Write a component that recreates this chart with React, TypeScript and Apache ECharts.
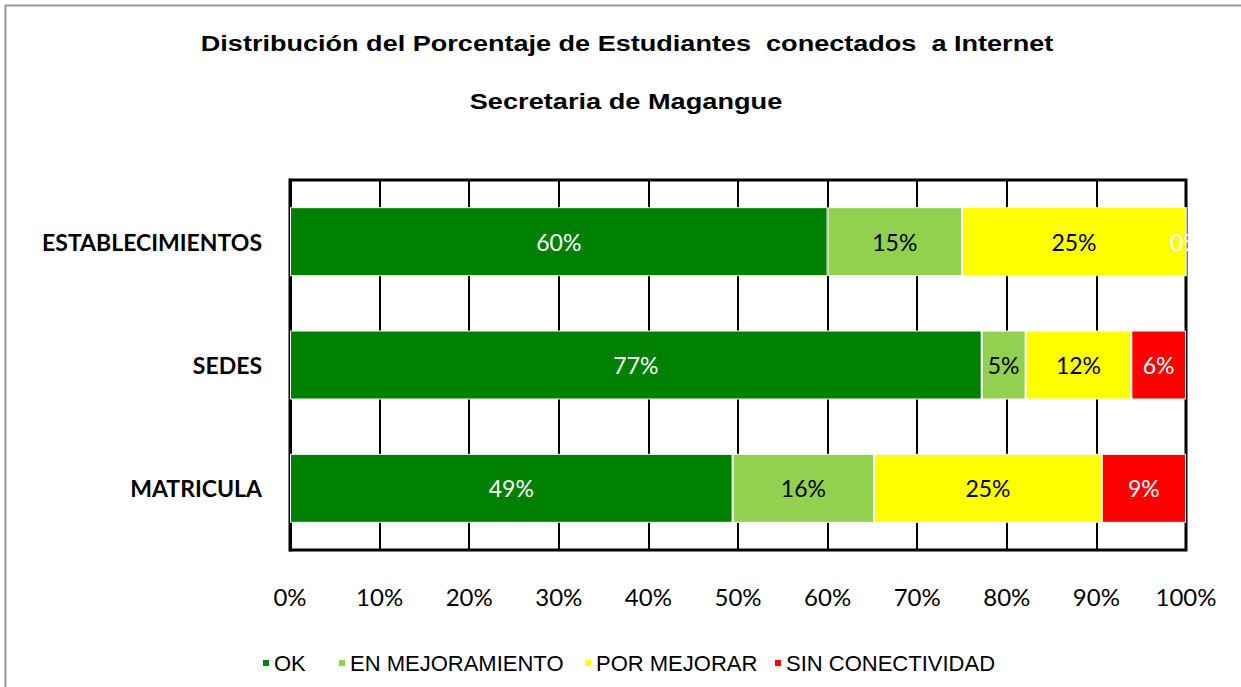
import React, { useEffect, useRef } from "react";
import * as echarts from "echarts";

const categories = ["MATRICULA", "SEDES", "ESTABLECIMIENTOS"];
const seriesNames = ["OK", "EN MEJORAMIENTO", "POR MEJORAR", "SIN CONECTIVIDAD"];
const okValues = [49.4, 77.2, 60];
const enMejoramientoValues = [15.8, 4.9, 15];
const porMejorarValues = [25.4, 11.8, 25];
const sinConectividadValues = [9.4, 6.1, 0];
const xTicks = [0, 10, 20, 30, 40, 50, 60, 70, 80, 90, 100];
const titleLines = [
  "Distribución del Porcentaje de Estudiantes  conectados  a Internet",
  "Secretaria de Magangue",
];

const colors = ["#008000", "#92D050", "#FFFF00", "#FF0000"];
const labelColors = ["#ffffff", "#000000", "#000000", "#ffffff"];
const legendLefts = [256, 332, 578, 768];

export default function App() {
  const ref = useRef<HTMLDivElement>(null);
  useEffect(() => {
    if (!ref.current) return;
    const chart = echarts.init(ref.current, null, { renderer: "svg" });
    const dataSets = [okValues, enMejoramientoValues, porMejorarValues, sinConectividadValues];
    const labelFont = "Lato, 'Open Sans', sans-serif";
    const titleFont = "bold 22px 'Liberation Sans', Arial, sans-serif";
    chart.setOption({
      animation: false,
      backgroundColor: "#ffffff",
      graphic: [
        {
          type: "rect",
          shape: { x: 5.5, y: 5.5, width: 1300, height: 800 },
          style: { fill: "none", stroke: "#999999", lineWidth: 2 },
          silent: true,
        },
        {
          type: "text",
          x: 627,
          y: 43,
          scaleX: 1.23,
          style: {
            text: titleLines[0],
            font: titleFont,
            fill: "#000",
            align: "center",
            verticalAlign: "middle",
          },
        },
        {
          type: "text",
          x: 626,
          y: 101,
          scaleX: 1.235,
          style: {
            text: titleLines[1],
            font: titleFont,
            fill: "#000",
            align: "center",
            verticalAlign: "middle",
          },
        },
      ],
      legend: seriesNames.map((name, i) => ({
        left: legendLefts[i],
        top: 647,
        itemWidth: 8,
        itemHeight: 8,
        icon: "rect",
        data: [name],
        textStyle: {
          fontFamily: "'Liberation Sans', Arial, sans-serif",
          fontSize: 22,
          color: "#000",
          padding: [0, 0, 0, -1],
        },
      })),
      grid: {
        left: 290,
        right: 55,
        top: 180,
        bottom: 137,
        show: true,
        borderColor: "#000",
        borderWidth: 3,
        backgroundColor: "transparent",
      },
      xAxis: {
        type: "value",
        min: 0,
        max: 100,
        interval: 10,
        axisLine: { show: false },
        axisTick: { show: false },
        splitLine: { show: true, lineStyle: { color: "#000", width: 2 } },
        axisLabel: {
          formatter: (v: number) => (xTicks.includes(v) ? v + "%" : ""),
          fontFamily: labelFont,
          fontSize: 24,
          color: "#000",
          margin: 34,
        },
      },
      yAxis: {
        type: "category",
        data: categories,
        axisLine: { show: true, lineStyle: { color: "#000", width: 3 } },
        axisTick: { show: false },
        axisLabel: {
          fontFamily: labelFont,
          fontWeight: "bold",
          fontSize: 23,
          color: "#000",
          margin: 28,
        },
      },
      series: seriesNames.map((name, i) => ({
        name,
        type: "bar",
        stack: "total",
        barWidth: 69,
        data: dataSets[i],
        itemStyle: { color: colors[i], borderColor: "#ffffff", borderWidth: 1 },
        label: {
          show: true,
          position: "inside",
          color: labelColors[i],
          fontFamily: labelFont,
          fontSize: 23,
          formatter: (p: any) => Math.round(p.value) + "%",
        },
      })),
    });
    return () => chart.dispose();
  }, []);
  return (
    <div
      ref={ref}
      style={{ position: "fixed", left: 0, top: 0, width: 1241, height: 687, background: "#fff" }}
    />
  );
}
